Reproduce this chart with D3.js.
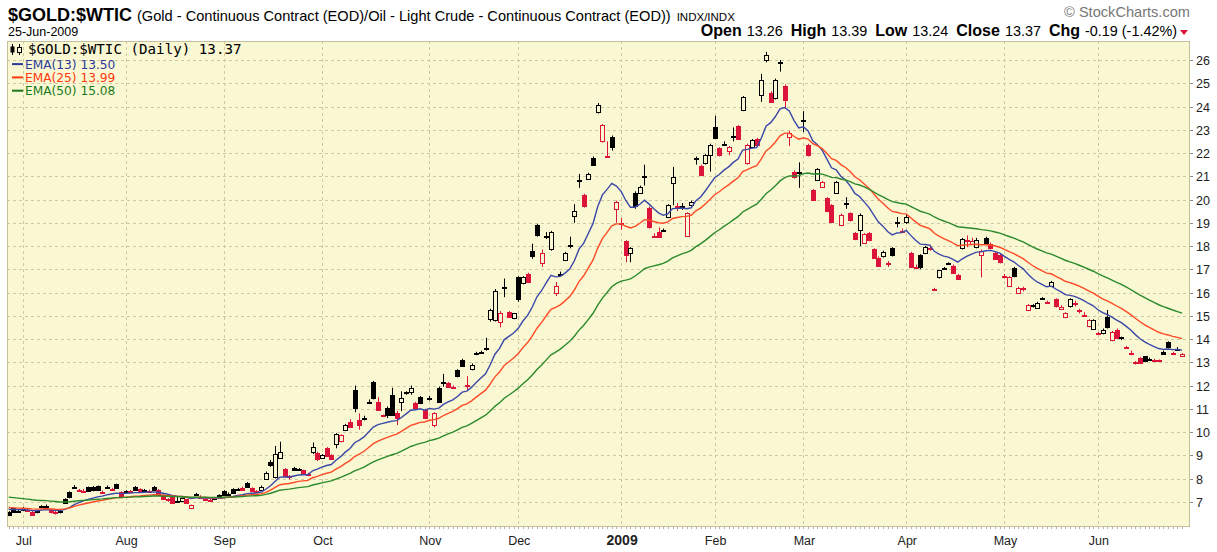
<!DOCTYPE html>
<html><head><meta charset="utf-8">
<script src="https://cdn.jsdelivr.net/npm/d3@7/dist/d3.min.js"></script>
<style>body{margin:0;background:#fff}svg{display:block}</style>
</head><body><svg id="c" width="1217" height="552"></svg>
<script>
// ---- DATA (one entry per trading day, 26-Jun-2008 .. 25-Jun-2009) ----
const opens = [
 6.57,6.72,6.6, 6.75,6.63,6.55,6.6,6.78,6.8,6.65,6.58,6.55,7.1,7.4,7.62,7.5,7.48,7.62,7.65,7.68,7.42,7.63,7.55,7.75,7.4,
 7.43,7.45,7.65,7.55,7.5,7.48,7.65,7.5,7.3,7.1,7.2,7.05,7.05,7.1,6.72,7.32,7.22,7.1,7.08,7.15,7.3,
 7.45,7.35,7.55,7.55,7.6,7.8,7.6,7.45,7.5,8.0,8.72,8.05,8.9,8.4,8.1,8.45,8.4,8.35,8.18,9.15,9.1,
 8.9,9.3,9.0,9.5,9.6,10.1,10.45,11.8,10.5,10.6,11.28,12.15,11.3,10.72,11.05,11.6,10.8,11.3,11.68,11.7,11.25,11.5,10.95,
 11.43,10.3,11.9,12.12,12.1,11.92,12.65,13.1,12.02,12.7,13.38,13.43,13.58,14.85,14.8,14.75,16.22,15.15,14.9,
 16.65,16.4,16.8,17.8,18.9,17.25,18.43,17.85,16.0,16.78,17.4,18.03,19.3,20.82,20.2,20.9,21.8,23.75,22.5,21.85,22.7,19.6,
 19.0,18.2,17.7,20.3,20.3,20.98,19.65,18.42,18.6,18.68,19.25,20.7,19.7,19.7,18.45,19.75,21.78,21.45,21.55,21.9,
 23.1,22.2,22.38,22.1,22.72,23.15,23.85,21.55,22.25,22.6,24.5,26.0,24.6,24.35,25.88,24.9,22.7,21.2,21.18,
 23.38,22.35,20.4,20.85,20.55,20.05,19.75,20.3,18.9,19.82,19.4,18.55,18.7,18.15,18.55,17.85,17.5,17.55,17.25,17.9,19.02,18.65,
 19.05,17.7,17.08,17.6,17.7,17.92,16.15,16.65,17.03,17.23,17.15,16.75,17.9,18.25,18.1,17.95,17.6,18.35,18.1,17.7,17.6,
 16.7,16.3,17.05,16.0,16.2,15.25,15.45,15.35,15.73,15.6,16.3,15.7,15.3,14.95,15.4,15.55,15.25,15.05,14.55,14.45,
 14.25,14.25,14.95,13.95,14.4,14.05,13.65,13.4,13.0,13.2,13.25,13.13,13.1,13.08,13.45,13.85,13.4,13.55,13.26
];
const highs = [
 6.6,6.75,6.68, 6.78,6.7,6.6,6.65,6.85,6.88,6.7,6.62,6.65,7.15,7.45,7.72,7.55,7.55,7.65,7.68,7.7,7.48,7.7,7.6,7.78,7.45,
 7.5,7.5,7.68,7.58,7.55,7.52,7.68,7.55,7.32,7.15,7.22,7.2,7.18,7.12,6.88,7.38,7.28,7.15,7.12,7.2,7.32,
 7.5,7.4,7.58,7.6,7.65,7.85,7.62,7.5,7.7,8.3,8.8,9.4,9.58,8.45,8.15,8.5,8.45,8.38,8.25,9.55,9.15,
 9.05,9.35,9.05,9.95,9.9,10.35,10.55,12.0,10.8,10.7,11.4,12.2,11.5,10.75,11.1,11.9,10.9,11.75,11.75,12.0,11.3,11.55,11.0,
 11.55,10.85,11.95,12.5,12.15,12.0,12.7,13.15,12.4,12.95,13.45,13.5,14.05,15.3,16.15,15.2,16.6,15.2,15.12,
 16.7,16.7,16.85,18.1,18.95,17.85,18.6,18.65,16.45,16.9,17.75,18.4,19.8,21.1,20.25,21.15,21.85,24.15,23.25,22.5,22.75,19.95,
 19.2,18.25,17.95,20.35,20.6,21.5,19.7,18.55,18.8,18.75,19.8,21.4,19.85,19.85,19.45,19.95,21.85,21.5,21.95,22.4,
 23.6,22.25,22.5,22.3,23.1,23.2,24.45,22.4,22.6,22.65,25.4,26.35,24.65,25.2,26.0,24.95,22.95,21.25,21.6,
 23.8,22.4,20.45,21.35,20.8,20.1,19.8,20.8,19.4,20.1,19.45,18.6,19.4,18.55,18.6,17.9,17.55,17.8,17.35,17.95,19.25,18.75,
 19.35,17.75,17.2,17.65,18.0,18.05,16.2,16.95,17.1,17.3,17.2,16.8,18.35,18.45,18.35,18.35,17.85,18.4,18.15,17.75,17.65,
 16.8,16.7,17.1,16.25,16.25,15.5,15.5,15.6,15.8,15.65,16.5,15.75,15.45,15.15,15.75,15.65,15.3,15.15,14.85,14.85,
 14.3,14.45,15.25,14.35,14.45,14.1,13.7,13.5,13.05,13.22,13.27,13.2,13.15,13.12,13.5,13.9,13.45,13.65,13.39
];
const lows = [
 6.38,6.55,6.55, 6.6,6.58,6.4,6.5,6.72,6.75,6.5,6.45,6.5,6.9,7.15,7.58,7.42,7.42,7.42,7.45,7.48,7.38,7.6,7.5,7.58,7.18,
 7.4,7.38,7.48,7.38,7.45,7.4,7.48,7.28,7.08,7.0,6.92,6.95,7.0,6.92,6.68,7.25,7.15,7.05,7.0,7.1,7.13,
 7.25,7.3,7.35,7.5,7.48,7.6,7.45,7.4,7.48,7.95,8.5,8.0,8.85,8.05,7.95,8.35,8.35,8.15,8.1,9.05,8.75,
 8.85,8.95,8.8,9.3,9.55,10.05,10.2,10.85,10.1,10.5,11.2,11.4,10.9,10.65,10.6,10.7,10.3,10.9,11.6,11.6,11.0,11.2,10.55,
 11.35,10.2,11.25,11.95,11.9,11.85,12.35,12.8,11.8,12.65,13.3,13.38,13.5,14.75,14.75,14.5,15.8,14.9,14.85,
 15.6,16.35,16.4,17.45,18.4,17.1,18.3,17.8,15.85,16.7,17.35,17.9,19.0,20.5,19.65,20.85,21.45,23.7,22.45,21.8,22.1,19.0,
 18.7,17.3,17.3,19.6,20.25,20.6,18.75,18.35,18.35,18.6,19.2,19.75,19.5,19.55,18.4,19.7,21.5,21.0,21.5,21.2,
 22.6,21.85,22.3,21.9,22.5,22.6,23.8,21.5,22.2,22.3,24.2,25.9,24.15,24.3,25.5,23.9,22.3,20.9,20.5,
 22.9,21.85,19.95,20.8,20.5,19.45,19.0,20.25,18.85,19.6,19.05,18.25,18.0,18.1,18.2,17.45,17.1,17.5,17.1,17.55,18.8,18.55,
 18.95,17.05,17.0,17.0,17.65,17.8,16.1,16.6,17.0,17.2,16.8,16.55,17.85,17.95,18.05,17.9,16.65,18.05,17.85,17.4,17.25,
 16.6,16.25,16.65,15.95,16.05,15.2,15.35,15.3,15.7,15.55,16.25,15.35,15.25,14.9,15.35,15.4,15.1,14.95,14.5,14.4,
 14.2,14.2,14.45,13.9,14.0,13.95,13.6,13.3,12.9,12.92,13.0,13.1,13.05,13.02,13.33,13.6,13.3,13.5,13.24
];
const closes = [
 6.45,6.58,6.62, 6.64,6.62,6.45,6.56,6.8,6.82,6.55,6.52,6.6,6.95,7.2,7.65,7.5,7.47,7.48,7.5,7.52,7.42,7.65,7.55,7.6,7.22,
 7.45,7.42,7.5,7.4,7.5,7.45,7.5,7.3,7.1,7.08,6.95,7.05,7.15,6.95,6.85,7.33,7.2,7.1,7.07,7.15,7.17,
 7.3,7.35,7.38,7.55,7.5,7.62,7.48,7.45,7.65,8.25,8.6,9.05,9.12,8.1,8.05,8.38,8.42,8.2,8.18,9.35,8.82,
 9.02,8.98,8.85,9.9,9.85,10.3,10.22,11.05,10.3,10.62,11.3,11.45,10.95,10.7,10.72,10.75,10.6,11.45,11.7,11.9,11.05,11.25,10.6,
 11.45,10.8,11.3,12.15,11.95,11.9,12.4,12.82,12.0,12.9,13.4,13.45,13.6,15.25,16.05,15.1,16.25,14.95,15.1,
 15.7,16.65,16.45,17.55,18.47,17.7,18.45,18.6,16.3,16.8,17.7,18.05,19.5,20.85,19.7,21.1,21.5,24.05,23.2,21.85,22.25,19.9,
 18.98,17.6,17.9,19.7,20.55,21.0,18.8,18.4,18.38,18.7,19.75,20.95,19.7,19.72,19.4,19.9,21.8,21.05,21.9,22.35,
 22.65,21.9,22.4,22.25,22.75,22.62,24.4,22.35,22.55,22.35,25.15,26.2,24.2,25.15,25.9,24.3,22.85,20.95,21.2,
 23.4,21.9,20.0,21.3,20.75,19.5,19.05,20.75,19.35,19.85,19.1,18.3,19.35,18.5,18.25,17.5,17.15,17.75,17.25,17.6,19.05,18.65,
 19.25,17.1,17.05,17.1,17.95,17.9,16.15,16.95,17.05,17.25,16.85,16.6,18.3,18.24,18.2,18.25,17.8,18.1,17.9,17.45,17.3,
 16.7,16.65,16.7,16.2,16.15,15.45,15.48,15.55,15.75,15.6,16.45,15.4,15.38,15.12,15.7,15.55,15.25,15.05,14.8,14.82,
 14.25,14.4,14.5,14.3,14.05,14.07,13.65,13.4,12.98,12.95,13.05,13.15,13.1,13.08,13.35,13.65,13.4,13.56,13.37
];
// index of first trading day of each month
const monthStarts = [3,25,46,67,90,109,131,151,170,192,213,233];
const monthLabels = ["Jul","Aug","Sep","Oct","Nov","Dec","2009","Feb","Mar","Apr","May","Jun"];
const yTickValues = [7,8,9,10,11,12,13,14,15,16,17,18,19,20,21,22,23,24,25,26];
const emaPeriods = [13,25,50];
const emaStart = [6.68,6.75,7.2];          // overlay values on the first day shown
const emaLegend = ["13.50","13.99","15.08"];
const headerQuote = {Open:"13.26",High:"13.39",Low:"13.24",Close:"13.37",Chg:"-0.19 (-1.42%)"};

// ---- DRAW ----
const svg = d3.select("#c");
const P = {l:7, t:41, r:1190, b:527};
const BG = "#faf7d3", RED = "#dc143c";
const N = closes.length;
const x = d3.scaleLinear().domain([0, N-1]).range([8.7, 1182.1]);
const y = d3.scaleLinear().domain([7, 26]).range([501.75, 60]);

svg.append("rect").attr("width",1217).attr("height",552).attr("fill","#fff");
svg.append("rect").attr("x",P.l).attr("y",P.t).attr("width",P.r-P.l).attr("height",P.b-P.t).attr("fill",BG);

// grid
const g = svg.append("g");
g.selectAll(".hg").data(yTickValues).join("line")
  .attr("x1",P.l).attr("x2",P.r).attr("y1",d=>Math.round(y(d))+0.5).attr("y2",d=>Math.round(y(d))+0.5)
  .attr("stroke","#cdc9a4").attr("stroke-dasharray","3,3");
g.selectAll(".vg").data(monthStarts).join("line")
  .attr("x1",d=>Math.round(x(d))+0.5).attr("x2",d=>Math.round(x(d))+0.5).attr("y1",P.t).attr("y2",P.b)
  .attr("stroke","#cdc9a4").attr("stroke-dasharray","3,3");

// candles
const cg = svg.append("g");
closes.forEach((c,i)=>{
  const o = opens[i], h = highs[i], l = lows[i];
  const prev = i>0 ? closes[i-1] : c;
  const col = c < prev ? RED : "#000";
  const cx = Math.round(x(i))+0.5;
  cg.append("line").attr("x1",cx).attr("x2",cx).attr("y1",y(h)).attr("y2",y(l)).attr("stroke",col).attr("stroke-width",1);
  const top = Math.round(y(Math.max(o,c))), bot = Math.round(y(Math.min(o,c)));
  const hgt = Math.max(1, bot-top);
  cg.append("rect").attr("x",cx-2).attr("y",top+0.5).attr("width",4).attr("height",hgt)
    .attr("fill", c>o ? BG : col).attr("stroke",col).attr("stroke-width",1);
});

// EMA overlays
const emaColors = ["#3a48a8","#ff4a26","#2b8a2b"];
const line = d3.line().x((d,i)=>x(i)).y(d=>y(d));
emaPeriods.forEach((p,k)=>{
  const a = 2/(p+1); const e=[emaStart[k]];
  for(let i=1;i<N;i++) e.push(e[i-1]+a*(closes[i]-e[i-1]));
  svg.append("path").attr("d",line(e)).attr("fill","none").attr("stroke",emaColors[k]).attr("stroke-width",1.4);
});

// border
svg.append("rect").attr("x",P.l+0.5).attr("y",P.t+0.5).attr("width",P.r-P.l-1).attr("height",P.b-P.t-1)
  .attr("fill","none").attr("stroke","#c4c09c");
// daily ticks under the bottom border
svg.append("g").selectAll("line").data(d3.range(N)).join("line")
  .attr("x1",i=>Math.round(x(i))+0.5).attr("x2",i=>Math.round(x(i))+0.5)
  .attr("y1",P.b).attr("y2",P.b+2).attr("stroke","#b8b498");

// right axis
const ax = svg.append("g");
yTickValues.forEach(v=>{
  const yy = Math.round(y(v))+0.5;
  ax.append("line").attr("x1",P.r).attr("x2",P.r+3).attr("y1",yy).attr("y2",yy).attr("stroke","#888");
  ax.append("text").attr("x",P.r+6).attr("y",yy+4.5).text(v)
    .attr("font-family","Liberation Sans, Arial, sans-serif").attr("font-size",12.5).attr("fill","#222");
});
// month labels
monthLabels.forEach((m,k)=>{
  svg.append("text").attr("x",x(monthStarts[k])+1).attr("y",545).attr("text-anchor","middle").text(m)
   .attr("font-family","Liberation Sans Narrow, Arial Narrow, Liberation Sans, sans-serif")
   .attr("font-size", m==="2009"?14:12.5).attr("font-weight", m==="2009"?"bold":"normal").attr("fill","#222");
});

// header
const F = "Liberation Sans, Arial, sans-serif";
const t1 = svg.append("text").attr("x",8).attr("y",21).attr("font-family",F).attr("fill","#000");
t1.append("tspan").attr("font-size",18).attr("font-weight","bold").text("$GOLD:$WTIC");
t1.append("tspan").attr("font-size",14.6).attr("dx",5).text("(Gold - Continuous Contract (EOD)/Oil - Light Crude - Continuous Contract (EOD))");
t1.append("tspan").attr("font-size",11.5).attr("dx",6).text("INDX/INDX");
svg.append("text").attr("x",1190).attr("y",17).attr("text-anchor","end").attr("font-family",F).attr("font-size",14.6).attr("fill","#777").text("© StockCharts.com");
svg.append("text").attr("x",8).attr("y",36).attr("font-family",F).attr("font-size",12.5).attr("fill","#000").text("25-Jun-2009");
const q = svg.append("text").attr("x",1177).attr("y",36).attr("text-anchor","end").attr("font-family",F).attr("fill","#000");
Object.entries(headerQuote).forEach(([k,v],i)=>{
  q.append("tspan").attr("font-weight","bold").attr("font-size",16).attr("dx",i?8:0).text(k);
  q.append("tspan").attr("font-size",14.4).attr("dx",5).text(v);
});
svg.append("path").attr("d","M1180,30 L1188,30 L1184,35 Z").attr("fill",RED);

// legend
const lg = svg.append("g");
lg.append("line").attr("x1",12.5).attr("x2",12.5).attr("y1",44).attr("y2",55).attr("stroke","#000");
lg.append("rect").attr("x",10.5).attr("y",46.5).attr("width",4).attr("height",6).attr("fill","#000");
lg.append("line").attr("x1",19.5).attr("x2",19.5).attr("y1",44).attr("y2",55).attr("stroke","#000");
lg.append("rect").attr("x",17.5).attr("y",47.5).attr("width",4).attr("height",5).attr("fill",BG).attr("stroke","#000");
lg.append("text").attr("x",28).attr("y",54).attr("font-family","DejaVu Sans Mono, monospace").attr("font-size",14.2).attr("fill","#000")
  .text("$GOLD:$WTIC (Daily) " + closes[N-1].toFixed(2));
const legCol = ["#2a3a9a","#ff3a10","#1a7a1a"];
emaPeriods.forEach((p,k)=>{
  const yy = 68.6 + k*13.3;
  lg.append("line").attr("x1",12).attr("x2",23).attr("y1",yy-4.5).attr("y2",yy-4.5).attr("stroke",legCol[k]).attr("stroke-width",2);
  lg.append("text").attr("x",25).attr("y",yy).attr("font-family","DejaVu Sans, Verdana, sans-serif").attr("font-size",12.2)
    .attr("fill",legCol[k]).text("EMA("+p+") "+emaLegend[k]);
});
</script></body></html>
